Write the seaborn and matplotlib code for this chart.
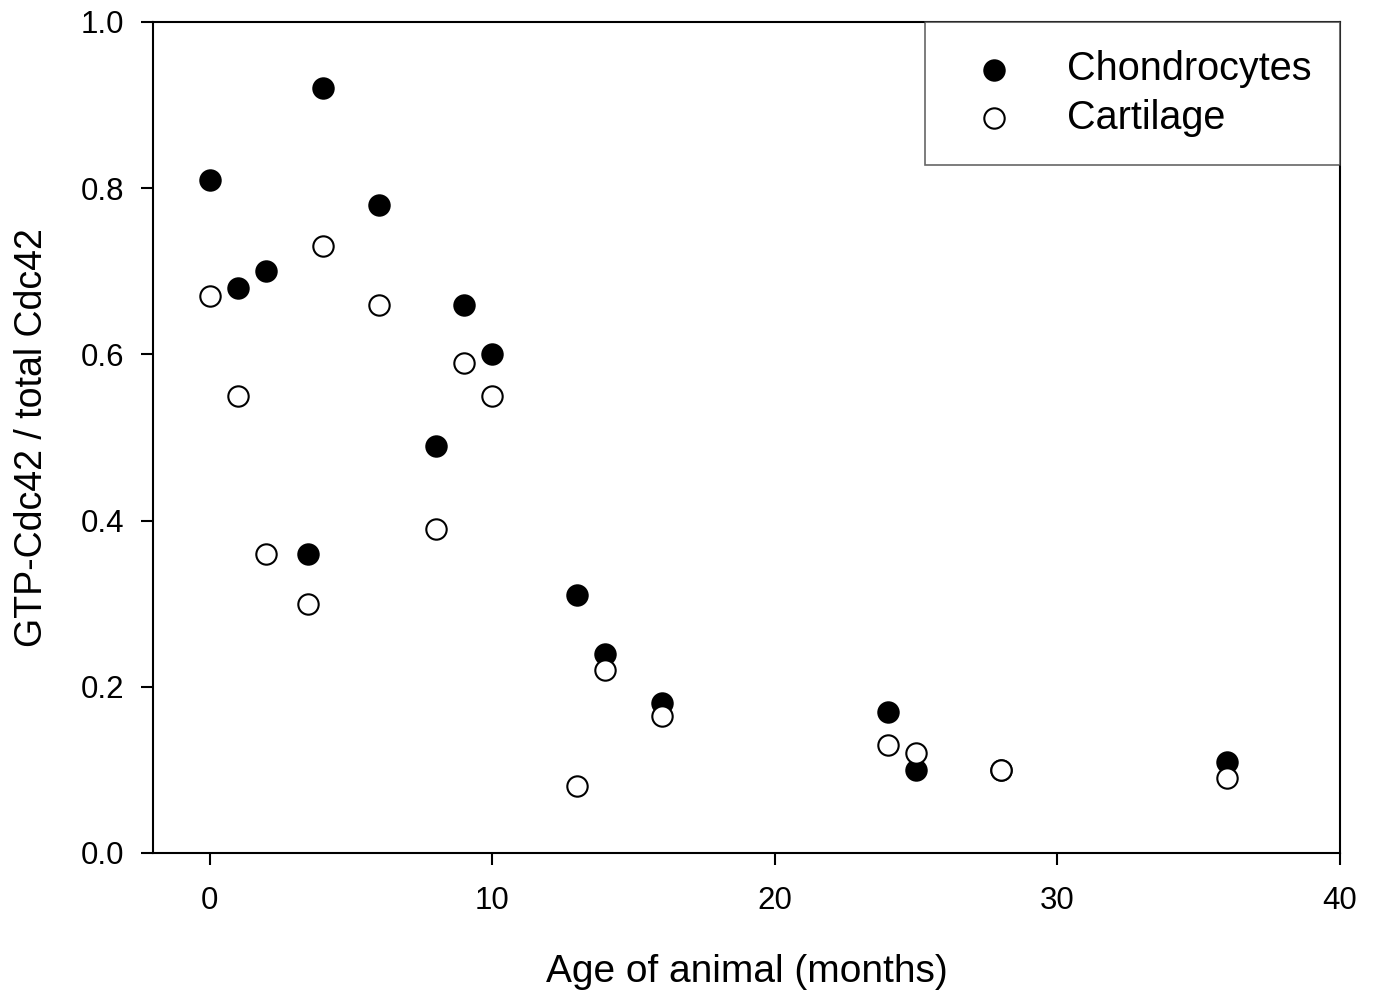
import matplotlib
matplotlib.use("Agg")
import matplotlib.pyplot as plt
import seaborn as sns
import pandas as pd

age = [0, 1, 2, 3.5, 4, 6, 8, 9, 10, 13, 14, 16, 24, 25, 28, 36]
chondrocytes = [0.81, 0.68, 0.70, 0.36, 0.92, 0.78, 0.49, 0.66, 0.60, 0.31, 0.24, 0.18, 0.17, 0.10, 0.10, 0.11]
cartilage = [0.67, 0.55, 0.36, 0.30, 0.73, 0.66, 0.39, 0.59, 0.55, 0.08, 0.22, 0.165, 0.13, 0.12, 0.10, 0.09]
x_ticks = [0, 10, 20, 30, 40]
y_ticks = [0.0, 0.2, 0.4, 0.6, 0.8, 1.0]

sns.set_theme(style="ticks")
plt.rcParams['font.family'] = ['Liberation Sans', 'DejaVu Sans']
plt.rcParams['text.color'] = 'black'
plt.rcParams['axes.labelcolor'] = 'black'
plt.rcParams['xtick.color'] = 'black'
plt.rcParams['ytick.color'] = 'black'

fig = plt.figure(figsize=(13.76, 9.94), dpi=100)
ax = fig.add_axes([0.1112, 0.1419, 0.9738 - 0.1112, 0.9779 - 0.1419])

df_ch = pd.DataFrame({"age": age, "ratio": chondrocytes})
df_ca = pd.DataFrame({"age": age, "ratio": cartilage})

sns.scatterplot(data=df_ch, x="age", y="ratio", ax=ax, s=215, color="black",
                edgecolor="black", linewidth=1.5, label="Chondrocytes", zorder=3)
sns.scatterplot(data=df_ca, x="age", y="ratio", ax=ax, s=215, facecolor="white",
                edgecolor="black", linewidth=1.5, label="Cartilage", zorder=4)

ax.set_xlim(-2, 40)
ax.set_ylim(0, 1.0)
ax.set_xticks(x_ticks)
ax.set_xticklabels([str(t) for t in x_ticks])
ax.set_yticks(y_ticks)
ax.set_yticklabels([f"{t:.1f}" for t in y_ticks])
ax.tick_params(axis="both", which="major", labelsize=22.5, length=8.5, width=1.5,
               direction="out", colors="black", pad=12)
ax.tick_params(axis="x", top=False, pad=15)
ax.tick_params(axis="y", right=False)
for sp in ax.spines.values():
    sp.set_visible(True)
    sp.set_linewidth(1.5)
    sp.set_color("black")

ax.set_xlabel("Age of animal (months)", fontsize=28, labelpad=28)
ax.set_ylabel("GTP-Cdc42 / total Cdc42", fontsize=27, labelpad=22)

leg = ax.legend(loc="upper right", fontsize=28.5, frameon=True, fancybox=False,
                borderaxespad=0, borderpad=0.72, handlelength=2.05,
                handletextpad=0.82, labelspacing=0.26, markerscale=1.0)
leg.get_frame().set_edgecolor("#404040")
leg.get_frame().set_linewidth(1.2)
for t in leg.get_texts():
    t.set_color("black")

fig.savefig("out.png", dpi=100, facecolor="white")
